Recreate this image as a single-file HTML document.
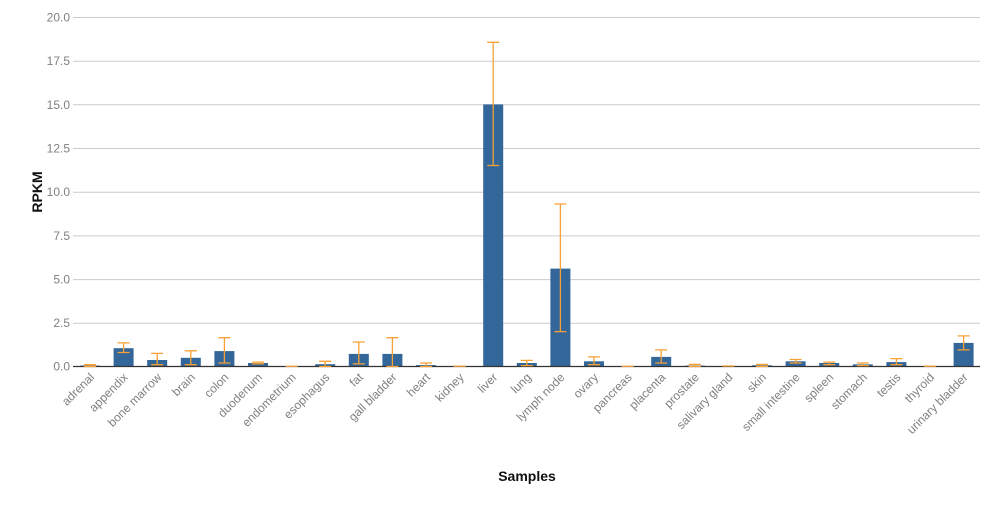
<!DOCTYPE html>
<html><head><meta charset="utf-8"><style>
body{margin:0;background:#fff}
svg{display:block;font-family:"Liberation Sans",Arial,sans-serif}
.t{font-size:12px;fill:#808080}
.e{stroke:#f7a035;stroke-width:1.3;fill:none}
</style></head><body>
<svg width="988" height="509" viewBox="0 0 988 509">
<g stroke="#cccccc" stroke-width="1">
<line x1="73" x2="980" y1="17.5" y2="17.5"/><line x1="73" x2="980" y1="61.2" y2="61.2"/>
<line x1="73" x2="980" y1="104.8" y2="104.8"/><line x1="73" x2="980" y1="148.5" y2="148.5"/>
<line x1="73" x2="980" y1="192.2" y2="192.2"/><line x1="73" x2="980" y1="235.9" y2="235.9"/>
<line x1="73" x2="980" y1="279.6" y2="279.6"/><line x1="73" x2="980" y1="323.2" y2="323.2"/>
</g>
<g class="t" text-anchor="end">
<text x="70" y="21.5">20.0</text><text x="70" y="65.2">17.5</text><text x="70" y="108.8">15.0</text>
<text x="70" y="152.5">12.5</text><text x="70" y="196.2">10.0</text><text x="70" y="239.9">7.5</text>
<text x="70" y="283.6">5.0</text><text x="70" y="327.2">2.5</text><text x="70" y="370.5">0.0</text>
</g>
<text transform="translate(42,192) rotate(-90)" text-anchor="middle" font-size="14" font-weight="bold" fill="#111">RPKM</text>
<text x="527" y="481" text-anchor="middle" font-size="14" font-weight="bold" fill="#111">Samples</text>
<g fill="#336699">
<rect x="80" y="365.6" width="20" height="0.9"/>
<rect x="113.6" y="348.2" width="20" height="18.3"/>
<rect x="147.2" y="360" width="20" height="6.5"/>
<rect x="180.8" y="357.8" width="20" height="8.7"/>
<rect x="214.4" y="351.1" width="20" height="15.4"/>
<rect x="248" y="363" width="20" height="3.5"/>
<rect x="315.2" y="364.2" width="20" height="2.3"/>
<rect x="348.8" y="353.9" width="20" height="12.6"/>
<rect x="382.4" y="353.9" width="20" height="12.6"/>
<rect x="416" y="365.1" width="20" height="1.4"/>
<rect x="483.2" y="104.4" width="20" height="262.1"/>
<rect x="516.8" y="363" width="20" height="3.5"/>
<rect x="550.4" y="268.6" width="20" height="97.9"/>
<rect x="584" y="361.3" width="20" height="5.2"/>
<rect x="651.2" y="356.9" width="20" height="9.6"/>
<rect x="684.8" y="365.6" width="20" height="0.9"/>
<rect x="752" y="365.3" width="20" height="1.2"/>
<rect x="785.6" y="361.3" width="20" height="5.2"/>
<rect x="819.2" y="363" width="20" height="3.5"/>
<rect x="852.8" y="364.4" width="20" height="2.1"/>
<rect x="886.4" y="362.1" width="20" height="4.4"/>
<rect x="953.6" y="342.9" width="20" height="23.6"/>
</g>
<line x1="73" x2="980" y1="366.5" y2="366.5" stroke="#333" stroke-width="1.2"/>
<g class="e">
<path d="M90 366.5V364.7M84 366.5h12M84 364.7h12"/>
<path d="M123.6 352.5V342.9M117.6 352.5h12M117.6 342.9h12"/>
<path d="M157.2 364.7V353.4M151.2 364.7h12M151.2 353.4h12"/>
<path d="M190.8 364.7V350.8M184.8 364.7h12M184.8 350.8h12"/>
<path d="M224.4 363V337.7M218.4 363h12M218.4 337.7h12"/>
<path d="M258 363.9V362.1M252 363.9h12M252 362.1h12"/>
<path d="M285.6 366.3h12"/>
<path d="M325.2 366.5V361.3M319.2 366.5h12M319.2 361.3h12"/>
<path d="M358.8 363.9V342M352.8 363.9h12M352.8 342h12"/>
<path d="M392.4 366.5V337.7M386.4 366.5h12M386.4 337.7h12"/>
<path d="M426 366.5V363M420 366.5h12M420 363h12"/>
<path d="M453.6 366.2h12"/>
<path d="M493.2 165.5V42.3M487.2 165.5h12M487.2 42.3h12"/>
<path d="M526.8 365.6V360.4M520.8 365.6h12M520.8 360.4h12"/>
<path d="M560.4 331.6V204M554.4 331.6h12M554.4 204h12"/>
<path d="M594 364.7V356.9M588 364.7h12M588 356.9h12"/>
<path d="M621.6 366.3h12"/>
<path d="M661.2 363V349.9M655.2 363h12M655.2 349.9h12"/>
<path d="M694.8 366.5V364.4M688.8 366.5h12M688.8 364.4h12"/>
<path d="M722.4 366h12"/>
<path d="M762 366.5V364.4M756 366.5h12M756 364.4h12"/>
<path d="M795.6 363V359.5M789.6 363h12M789.6 359.5h12"/>
<path d="M829.2 364.7V362.1M823.2 364.7h12M823.2 362.1h12"/>
<path d="M862.8 365.6V363M856.8 365.6h12M856.8 363h12"/>
<path d="M896.4 364.7V358.6M890.4 364.7h12M890.4 358.6h12"/>
<path d="M924 366.2h12"/>
<path d="M963.6 349.9V335.9M957.6 349.9h12M957.6 335.9h12"/>
</g>
<g class="t" text-anchor="end">
<text transform="translate(95,378) rotate(-45)">adrenal</text>
<text transform="translate(128.6,378) rotate(-45)">appendix</text>
<text transform="translate(162.2,378) rotate(-45)">bone marrow</text>
<text transform="translate(195.8,378) rotate(-45)">brain</text>
<text transform="translate(229.4,378) rotate(-45)">colon</text>
<text transform="translate(263,378) rotate(-45)">duodenum</text>
<text transform="translate(296.6,378) rotate(-45)">endometrium</text>
<text transform="translate(330.2,378) rotate(-45)">esophagus</text>
<text transform="translate(363.8,378) rotate(-45)">fat</text>
<text transform="translate(397.4,378) rotate(-45)">gall bladder</text>
<text transform="translate(431,378) rotate(-45)">heart</text>
<text transform="translate(464.6,378) rotate(-45)">kidney</text>
<text transform="translate(498.2,378) rotate(-45)">liver</text>
<text transform="translate(531.8,378) rotate(-45)">lung</text>
<text transform="translate(565.4,378) rotate(-45)">lymph node</text>
<text transform="translate(599,378) rotate(-45)">ovary</text>
<text transform="translate(632.6,378) rotate(-45)">pancreas</text>
<text transform="translate(666.2,378) rotate(-45)">placenta</text>
<text transform="translate(699.8,378) rotate(-45)">prostate</text>
<text transform="translate(733.4,378) rotate(-45)">salivary gland</text>
<text transform="translate(767,378) rotate(-45)">skin</text>
<text transform="translate(800.6,378) rotate(-45)">small intestine</text>
<text transform="translate(834.2,378) rotate(-45)">spleen</text>
<text transform="translate(867.8,378) rotate(-45)">stomach</text>
<text transform="translate(901.4,378) rotate(-45)">testis</text>
<text transform="translate(935,378) rotate(-45)">thyroid</text>
<text transform="translate(968.6,378) rotate(-45)">urinary bladder</text>
</g>
</svg>
</body></html>
